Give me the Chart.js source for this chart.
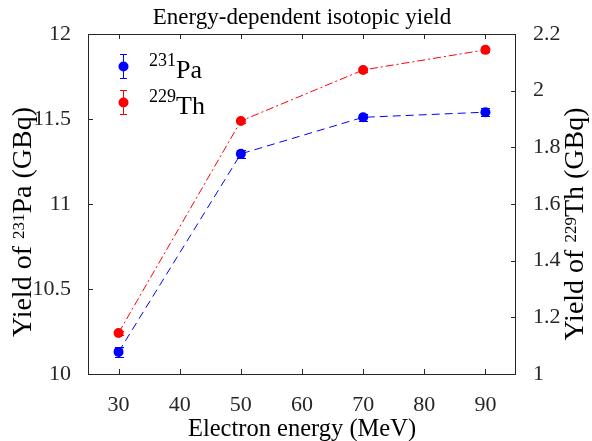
<!DOCTYPE html>
<html>
<head>
<meta charset="utf-8">
<script src="https://cdn.jsdelivr.net/npm/chart.js@4/dist/chart.umd.min.js"></script>
<style>
  html, body { margin: 0; background: #fff; }
  #wrap { width: 592px; height: 441px; }
</style>
</head>
<body>
<div id="wrap"><canvas id="c"></canvas></div>
<script>
// values
const energies = [30, 50, 70, 90];
const paYield = [10.13, 11.295, 11.51, 11.54];
const paErr = [0.028, 0.024, 0.022, 0.022];
const thYield = [1.145, 1.893, 2.073, 2.144];
const thErr = [0.008, 0.008, 0.008, 0.008];

const xTicks = [30, 40, 50, 60, 70, 80, 90];
const leftTicks = [10, 10.5, 11, 11.5, 12];
const rightTicks = [1, 1.2, 1.4, 1.6, 1.8, 2, 2.2];

const FONT = "'Liberation Serif', serif";
const AX = '#262626';

// parts: [{t, sup}] ; size = main font, sub = superscript font, raise = px
function drawRich(ctx, parts, x, y, align, size, sub, raise) {
    let w = 0;
    parts.forEach(p => {
        ctx.font = (p.sup ? sub : size) + 'px ' + FONT;
        w += ctx.measureText(p.t).width;
    });
    let cx = align === 'center' ? x - w / 2 : x;
    ctx.textBaseline = 'alphabetic';
    ctx.textAlign = 'left';
    parts.forEach(p => {
        ctx.font = (p.sup ? sub : size) + 'px ' + FONT;
        ctx.fillText(p.t, cx, p.sup ? y - raise : y);
        cx += ctx.measureText(p.t).width;
    });
}

const decor = {
    id: 'decor',
    beforeDatasetsDraw(chart) {
        const ctx = chart.ctx;
        ctx.save();
        chart.data.datasets.forEach((ds, i) => {
            const meta = chart.getDatasetMeta(i);
            const ys = chart.scales[ds.yAxisID];
            ctx.fillStyle = ds.borderColor;
            meta.data.forEach((pt, j) => {
                const v = ds.data[j].y, e = ds.errs[j];
                const y1 = Math.round(ys.getPixelForValue(v - e));
                const y2 = Math.round(ys.getPixelForValue(v + e));
                const px = Math.round(pt.x);
                ctx.fillRect(px, y2, 1, y1 - y2);
                ctx.fillRect(px - 4, y1, 9, 1);
                ctx.fillRect(px - 4, y2, 9, 1);
            });
        });
        ctx.restore();
    },
    afterDraw(chart) {
        const ctx = chart.ctx;
        const a = chart.chartArea;
        const sx = chart.scales.x, yl = chart.scales.yL, yr = chart.scales.yR;
        ctx.save();
        ctx.strokeStyle = AX;
        ctx.lineWidth = 1;
        ctx.strokeRect(Math.round(a.left) + 0.5, Math.round(a.top) + 0.5,
            Math.round(a.right - a.left) - 1, Math.round(a.bottom - a.top));
        ctx.beginPath();
        xTicks.forEach(v => {
            const px = Math.round(sx.getPixelForValue(v)) + 0.5;
            ctx.moveTo(px, a.bottom); ctx.lineTo(px, a.bottom - 5);
            ctx.moveTo(px, a.top); ctx.lineTo(px, a.top + 5);
        });
        leftTicks.forEach(v => {
            const py = Math.round(yl.getPixelForValue(v)) + 0.5;
            ctx.moveTo(a.left, py); ctx.lineTo(a.left + 5, py);
        });
        rightTicks.forEach(v => {
            const py = Math.round(yr.getPixelForValue(v)) + 0.5;
            ctx.moveTo(a.right, py); ctx.lineTo(a.right - 5, py);
        });
        ctx.stroke();

        // titles
        ctx.fillStyle = '#000';
        const cxm = (a.left + a.right) / 2;
        drawRich(ctx, [{ t: 'Energy-dependent isotopic yield' }], cxm, 24, 'center', 23, 14, 0);
        drawRich(ctx, [{ t: 'Electron energy (MeV)' }], cxm, 436, 'center', 24.5, 16, 0);

        ctx.save();
        ctx.translate(31, 222);
        ctx.rotate(-Math.PI / 2);
        drawRich(ctx, [{ t: 'Yield of ' }, { t: '231', sup: true }, { t: 'Pa (GBq)' }], 0, 0, 'center', 28, 17, 7);
        ctx.restore();

        ctx.save();
        ctx.translate(583, 224);
        ctx.rotate(-Math.PI / 2);
        drawRich(ctx, [{ t: 'Yield of ' }, { t: '229', sup: true }, { t: 'Th (GBq)' }], 0, 0, 'center', 28, 17, 7);
        ctx.restore();

        // legend
        const items = [
            { c: '#0000ff', parts: [{ t: '231', sup: true }, { t: 'Pa' }], y: 66 },
            { c: '#ff0000', parts: [{ t: '229', sup: true }, { t: 'Th' }], y: 102 }
        ];
        items.forEach(it => {
            const lx = 123;
            ctx.fillStyle = it.c;
            ctx.fillRect(lx, it.y - 12, 1, 25);
            ctx.fillRect(lx - 3, it.y - 12, 7, 1);
            ctx.fillRect(lx - 3, it.y + 12, 7, 1);
            ctx.beginPath();
            ctx.arc(lx + 0.5, it.y + 0.5, 5, 0, Math.PI * 2);
            ctx.fill();
            ctx.fillStyle = '#000';
            drawRich(ctx, it.parts, 149, it.y + 12, 'left', 26, 18, 12);
        });
        ctx.restore();
    }
};

function fixedTicks(list) {
    return scale => { scale.ticks = list.map(v => ({ value: v })); };
}

const tickFont = { family: FONT, size: 22 };

new Chart(document.getElementById('c'), {
    type: 'line',
    data: {
        datasets: [
            {
                label: '231Pa',
                data: energies.map((e, i) => ({ x: e, y: paYield[i] })),
                errs: paErr,
                yAxisID: 'yL',
                borderColor: '#0000ff',
                backgroundColor: '#0000ff',
                borderWidth: 1,
                borderDash: [8, 5],
                pointRadius: 5,
                pointBorderWidth: 0,
                tension: 0
            },
            {
                label: '229Th',
                data: energies.map((e, i) => ({ x: e, y: thYield[i] })),
                errs: thErr,
                yAxisID: 'yR',
                borderColor: '#ff0000',
                backgroundColor: '#ff0000',
                borderWidth: 1,
                borderDash: [8, 3, 2, 3],
                pointRadius: 5,
                pointBorderWidth: 0,
                tension: 0
            }
        ]
    },
    options: {
        responsive: true,
        maintainAspectRatio: false,
        animation: false,
        layout: { padding: { top: 34, left: 0, right: 0, bottom: 0 } },
        plugins: { legend: { display: false }, tooltip: { enabled: false } },
        scales: {
            x: {
                type: 'linear',
                min: 25, max: 95,
                afterBuildTicks: fixedTicks(xTicks),
                afterFit: s => { s.height = 67; },
                grid: { display: false },
                border: { display: false },
                ticks: { color: AX, font: tickFont, padding: 10, maxRotation: 0, autoSkip: false, callback: v => String(v) }
            },
            yL: {
                type: 'linear',
                position: 'left',
                min: 10, max: 12,
                afterBuildTicks: fixedTicks(leftTicks),
                afterFit: s => { s.width = 88; },
                grid: { display: false },
                border: { display: false },
                ticks: { color: AX, font: tickFont, padding: 9, autoSkip: false, callback: v => String(v) }
            },
            yR: {
                type: 'linear',
                position: 'right',
                min: 1, max: 2.2,
                afterBuildTicks: fixedTicks(rightTicks),
                afterFit: s => { s.width = 76; },
                grid: { display: false },
                border: { display: false },
                ticks: { color: AX, font: tickFont, padding: 9, autoSkip: false, callback: v => String(+v.toFixed(1)) }
            }
        }
    },
    plugins: [decor]
});
</script>
</body>
</html>
